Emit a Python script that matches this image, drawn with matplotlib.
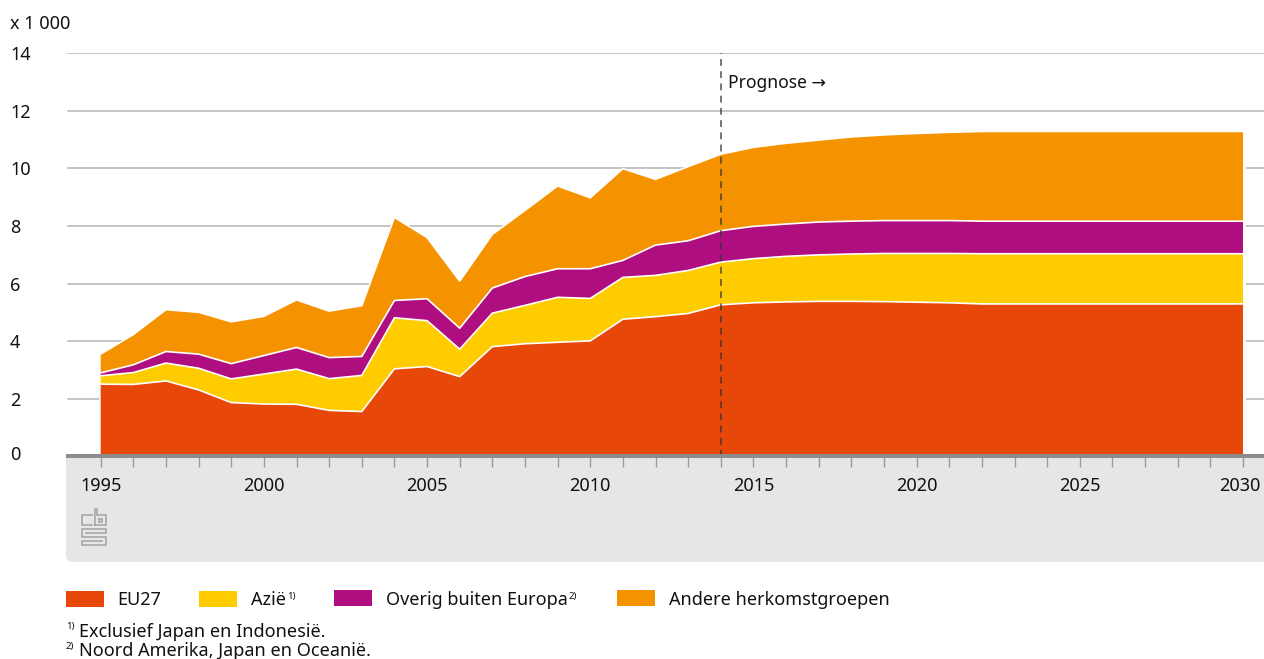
import matplotlib
matplotlib.use("Agg")
import matplotlib.pyplot as plt
import numpy as np
from matplotlib.patches import Rectangle, FancyBboxPatch
from matplotlib.lines import Line2D
from matplotlib.transforms import Affine2D, ScaledTranslation

plt.rcParams['font.family'] = ['Noto Sans', 'DejaVu Sans']

years = list(range(1995, 2031))
eu27 = [2.52, 2.51, 2.63, 2.32, 1.88, 1.83, 1.82, 1.61, 1.57, 3.05, 3.13, 2.78, 3.82, 3.92, 3.97, 4.02,
        4.77, 4.86, 4.97, 5.27, 5.34, 5.37, 5.39, 5.39, 5.38, 5.36, 5.34, 5.30, 5.30, 5.30, 5.30, 5.30,
        5.30, 5.30, 5.30, 5.30]
azie = [0.29, 0.41, 0.62, 0.75, 0.82, 1.04, 1.22, 1.10, 1.25, 1.77, 1.59, 0.95, 1.16, 1.33, 1.56, 1.47,
        1.45, 1.43, 1.49, 1.48, 1.53, 1.58, 1.61, 1.64, 1.67, 1.69, 1.71, 1.74, 1.74, 1.74, 1.74, 1.74,
        1.74, 1.74, 1.74, 1.74]
overig = [0.10, 0.27, 0.40, 0.49, 0.53, 0.64, 0.75, 0.73, 0.66, 0.60, 0.76, 0.73, 0.87, 1.00, 0.99, 1.03,
          0.59, 1.05, 1.03, 1.09, 1.12, 1.12, 1.14, 1.14, 1.14, 1.14, 1.14, 1.13, 1.13, 1.13, 1.13, 1.13,
          1.13, 1.13, 1.13, 1.13]
andere = [0.65, 1.05, 1.45, 1.45, 1.45, 1.36, 1.65, 1.61, 1.76, 2.88, 2.12, 1.63, 1.86, 2.29, 2.87, 2.46,
          3.18, 2.28, 2.57, 2.65, 2.74, 2.80, 2.84, 2.92, 2.97, 3.02, 3.06, 3.11, 3.11, 3.11, 3.11, 3.11,
          3.11, 3.11, 3.11, 3.11]
series = [eu27, azie, overig, andere]
series_labels = ['EU27', 'Azië', 'Overig buiten Europa', 'Andere herkomstgroepen']
colors = ['#e8470a', '#ffcc00', '#af0e80', '#f59200']
y_ticks = [0, 2, 4, 6, 8, 10, 12, 14]
x_label_years = [1995, 2000, 2005, 2010, 2015, 2020, 2025, 2030]
forecast_start = 2014

W, H = 1264, 659
fig = plt.figure(figsize=(W / 100, H / 100), dpi=100, facecolor='white')
px = Affine2D().scale(1, -1).translate(0, H) + fig.dpi_scale_trans.inverted() + fig.dpi_scale_trans

# main axes: x 66..1264 px, y 53..456.8 px
ax = fig.add_axes([66 / W, 1 - 456.8 / H, (W - 66) / W, (456.8 - 53) / H])
ax.patch.set_alpha(0)
x0_px, x1_px = 100.7, 1243.0
x_per_year = (x1_px - x0_px) / 35
ax.set_xlim(1995 - (x0_px - 66) / x_per_year, 1995 + (W - x0_px) / x_per_year)
ax.set_ylim(0, 14)
for s in ax.spines.values():
    s.set_visible(False)

for v in y_ticks[1:]:
    ax.axhline(v, xmin=2 / (W - 66), color='#b4b4b4', lw=1.1, zorder=1)

# white halo at both ends so the grid lines stop short of the area
totals = np.sum(series, axis=0)
for i in (0, -1):
    ax.plot([years[i], years[i]], [0, totals[i]], color='white', lw=3.5, zorder=1.5, solid_capstyle='butt')

ax.stackplot(years, *series, colors=colors, linewidth=0, zorder=2)
for top in np.cumsum(series, axis=0):
    ax.plot(years, top, color='white', lw=1.2, zorder=2.5, solid_joinstyle='miter', solid_capstyle='butt')

ax.plot([forecast_start, forecast_start], [0, 14], color='#333333', lw=1.1,
        dashes=(4.5, 3.5), alpha=0.85, zorder=3)
ax.text(728, 83, 'Prognose →', transform=px, fontsize=12.6, color='#111111', va='center', ha='left')

ax.set_yticks(y_ticks)
ax.set_yticklabels([str(v) for v in y_ticks])
ax.tick_params(axis='y', length=0, pad=56 * 0.72, labelsize=13, labelcolor='#111111')
for lab, v in zip(ax.get_yticklabels(), y_ticks):
    lab.set_ha('left')
    if v == 0:
        lab.set_transform(lab.get_transform() + ScaledTranslation(0, 3.5 / 100, fig.dpi_scale_trans))

ax.set_xticks(years)
ax.set_xticklabels([str(y) if y in x_label_years else '' for y in years])
ax.tick_params(axis='x', length=7.5, width=1.0, color='#9a9a9a', pad=7.4, labelsize=13, labelcolor='#111111')
for lab, y in zip(ax.get_xticklabels(), years):
    if y == 2030:
        lab.set_transform(lab.get_transform() + ScaledTranslation(-3.5 / 100, 0, fig.dpi_scale_trans))

fig.text(10, 24, 'x 1 000', transform=px, fontsize=13, color='#111111', va='center', ha='left')

# grey panel under the axis
fig.add_artist(FancyBboxPatch((66, 456), W + 30 - 66, 106, boxstyle='round,pad=0,rounding_size=7',
                              transform=px, fc='#e6e6e6', ec='none', zorder=-2))
fig.add_artist(Rectangle((66, 456), W + 30 - 66, 40, transform=px, fc='#e6e6e6', ec='none', zorder=-2))
# axis base line
fig.add_artist(Rectangle((66, 454), W - 66, 4.2, transform=px, fc='#8c8c8c', ec='none', zorder=1))

# cbs logo
logo_paths = [
    [(91.5, 515), (81.5, 515), (81.5, 524.5), (91.5, 524.5)],
    [(94.5, 524.5), (94.5, 509), (97, 509), (97, 515), (105.5, 515), (105.5, 524.5), (94.5, 524.5)],
    [(98.5, 518.5), (102, 518.5), (102, 521.5), (98.5, 521.5), (98.5, 518.5)],
    [(85.5, 532.5), (105.5, 532.5), (105.5, 529), (81.5, 529), (81.5, 536.5), (105.5, 536.5),
     (105.5, 544.5), (81.5, 544.5), (81.5, 540.5), (101.5, 540.5)],
]
for p in logo_paths:
    xs, ys = zip(*p)
    fig.add_artist(Line2D(xs, ys, transform=px, color='#a8a8a8', lw=1.2, solid_joinstyle='miter'))

# legend
swatch_x = [66, 199, 334, 617]
text_x = [117, 251, 386, 669]
swatch_y = [591, 591, 590, 590]
for sx, tx, sy, c, lab in zip(swatch_x, text_x, swatch_y, colors, series_labels):
    fig.add_artist(Rectangle((sx, sy), 38, 16, transform=px, fc=c, ec='none'))
    fig.text(tx, 600, lab, transform=px, fontsize=13, color='#111111', va='center', ha='left')
fig.text(287, 596, '1)', transform=px, fontsize=7, color='#111111', va='center', ha='left')
fig.text(569, 596, '2)', transform=px, fontsize=7, color='#111111', va='center', ha='left')

# footnotes
fig.text(66, 627, '1)', transform=px, fontsize=7, color='#111111', va='center', ha='left')
fig.text(79, 632, 'Exclusief Japan en Indonesië.', transform=px, fontsize=13, color='#111111', va='center', ha='left')
fig.text(66, 646, '2)', transform=px, fontsize=7, color='#111111', va='center', ha='left')
fig.text(79, 651, 'Noord Amerika, Japan en Oceanië.', transform=px, fontsize=13, color='#111111', va='center', ha='left')

fig.savefig('out.png', dpi=100)
